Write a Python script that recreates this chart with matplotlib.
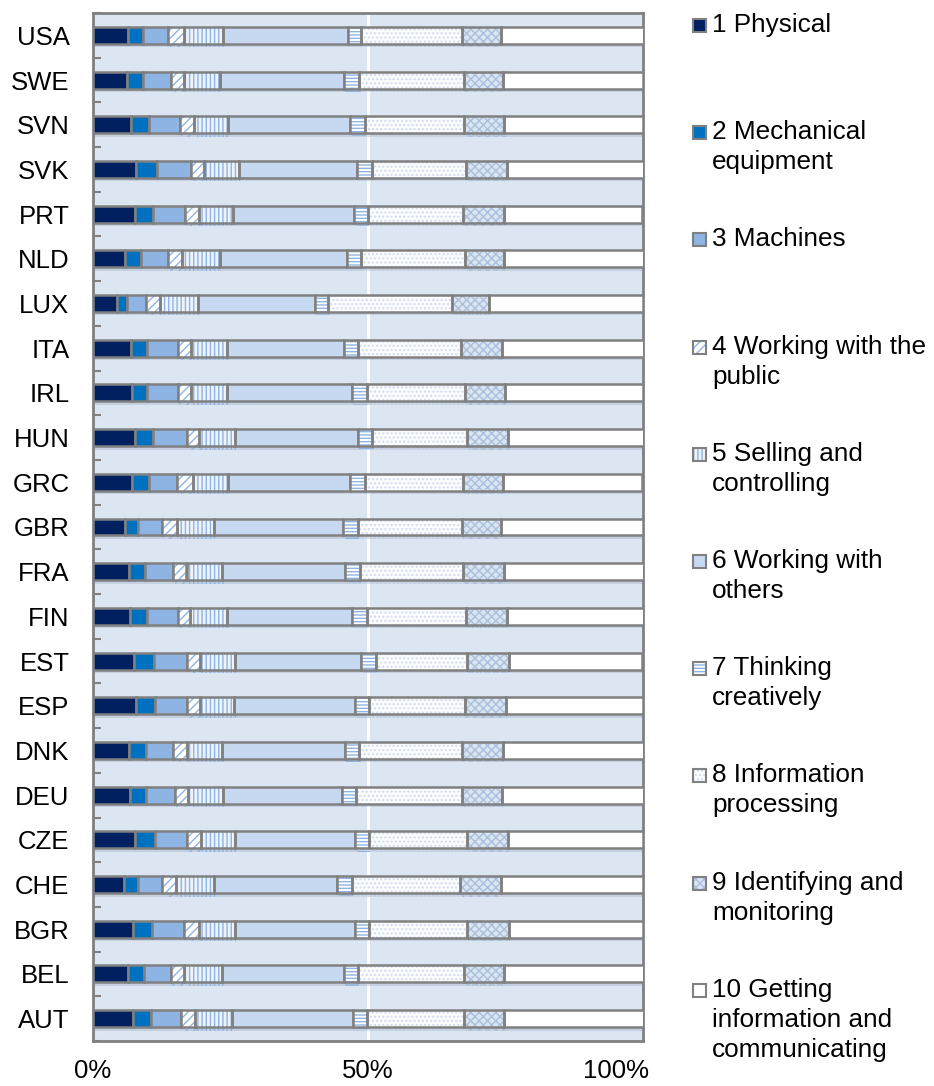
import numpy as np
import matplotlib
matplotlib.use('Agg')
import matplotlib.pyplot as plt
from matplotlib.patches import Rectangle
from matplotlib import patheffects as pe
from matplotlib.transforms import ScaledTranslation

plt.rcParams['font.family'] = ['Liberation Sans', 'DejaVu Sans']
plt.rcParams['hatch.linewidth'] = 1.0

countries = ['USA', 'SWE', 'SVN', 'SVK', 'PRT', 'NLD', 'LUX', 'ITA', 'IRL', 'HUN', 'GRC', 'GBR',
             'FRA', 'FIN', 'EST', 'ESP', 'DNK', 'DEU', 'CZE', 'CHE', 'BGR', 'BEL', 'AUT']

# shares (%) of each task group, same order as countries
physical = [6.4, 6.1, 6.9, 7.9, 7.7, 5.9, 4.4, 6.9, 7.0, 7.6, 7.1, 5.8, 6.6, 6.7, 7.5, 7.9, 6.6, 6.8, 7.6, 5.6, 7.2, 6.4, 7.3]
mechanical = [2.6, 2.9, 3.2, 3.8, 3.2, 2.9, 1.8, 3.0, 2.9, 3.3, 3.0, 2.4, 2.8, 3.2, 3.6, 3.3, 3.0, 2.9, 3.6, 2.5, 3.5, 2.9, 3.2]
machines = [4.7, 5.1, 5.7, 6.1, 5.8, 4.9, 3.5, 5.5, 5.5, 6.1, 5.1, 4.4, 5.2, 5.5, 5.9, 5.8, 5.0, 5.2, 5.9, 4.5, 5.9, 4.9, 5.5]
public = [2.9, 2.4, 2.6, 2.4, 2.6, 2.5, 2.5, 2.5, 2.4, 2.3, 2.9, 2.6, 2.4, 2.3, 2.5, 2.5, 2.5, 2.4, 2.5, 2.5, 2.7, 2.4, 2.6]
selling = [7.0, 6.6, 6.2, 6.3, 6.2, 6.8, 6.8, 6.5, 6.6, 6.5, 6.5, 6.8, 6.5, 6.6, 6.3, 6.2, 6.4, 6.4, 6.2, 6.9, 6.5, 6.9, 6.6]
others = [22.7, 22.5, 22.2, 21.5, 22.0, 23.2, 21.3, 21.2, 22.7, 22.3, 22.1, 23.5, 22.4, 22.8, 23.0, 22.0, 22.3, 21.6, 21.9, 22.4, 21.8, 22.1, 22.1]
creative = [2.4, 2.8, 2.6, 2.8, 2.5, 2.5, 2.5, 2.6, 2.7, 2.7, 2.7, 2.7, 2.6, 2.7, 2.6, 2.5, 2.6, 2.6, 2.5, 2.7, 2.5, 2.6, 2.5]
info_proc = [18.3, 19.0, 18.1, 17.1, 17.3, 18.9, 22.4, 18.7, 17.9, 17.2, 17.8, 18.8, 18.7, 18.1, 16.6, 17.4, 18.7, 19.1, 17.8, 19.7, 17.9, 19.3, 17.7]
monitoring = [7.2, 7.2, 7.3, 7.3, 7.5, 7.1, 6.8, 7.5, 7.3, 7.5, 7.3, 7.2, 7.5, 7.3, 7.6, 7.4, 7.4, 7.4, 7.4, 7.3, 7.6, 7.2, 7.2]
communicating = [25.9, 25.4, 25.2, 25.0, 25.1, 25.4, 28.0, 25.7, 25.0, 24.6, 25.4, 25.8, 25.4, 25.0, 24.3, 25.0, 25.6, 25.8, 24.6, 25.9, 24.4, 25.4, 25.4]

series = [physical, mechanical, machines, public, selling, others, creative, info_proc, monitoring, communicating]
labels = ['1 Physical', '2 Mechanical\nequipment', '3 Machines', '4 Working with the\npublic',
          '5 Selling and\ncontrolling', '6 Working with\nothers', '7 Thinking\ncreatively',
          '8 Information\nprocessing', '9 Identifying and\nmonitoring',
          '10 Getting\ninformation and\ncommunicating']

# (facecolor, hatch, hatch colour)
styles = [
    ('#002060', None, None),
    ('#0070C0', None, None),
    ('#8EB4E3', None, None),
    ('white', '////', '#8EB4E3'),
    ('#eef3fa', '||||', '#8EB4E3'),
    ('#C6D9F1', None, None),
    ('white', '-----', '#8EB4E3'),
    ('#fbfcfe', '....', '#cfdcec'),
    ('#dbe5f1', 'xxxx', '#a9bfdb'),
    ('white', None, None),
]
edge = '#808080'

fig = plt.figure(figsize=(9.34, 10.86), dpi=100)
ax = fig.add_axes([93 / 934, 1 - 1041 / 1086, 550 / 934, 1028 / 1086])
ax.set_facecolor('#DCE6F2')

y = np.arange(len(countries))
left = np.zeros(len(countries))
shadow = [pe.SimplePatchShadow(offset=(1, -2.5), shadow_rgbFace='#8090a8', alpha=0.25), pe.Normal()]
for vals, (fc, hatch, hc) in zip(series, styles):
    vals = np.array(vals)
    if hatch:
        bars = ax.barh(y, vals, left=left, height=0.38, color=fc, hatch=hatch,
                       edgecolor=hc, linewidth=0, zorder=3)
        for b in bars:
            b.set_path_effects(shadow)
        ax.barh(y, vals, left=left, height=0.38, fill=False, edgecolor=edge, linewidth=1.8, zorder=4)
    else:
        bars = ax.barh(y, vals, left=left, height=0.38, color=fc, edgecolor=edge, linewidth=1.8, zorder=3)
        for b in bars:
            b.set_path_effects(shadow)
    left += vals

ax.axvline(50, color='white', linewidth=2, zorder=1)
ax.set_xlim(0, 100)
ax.set_ylim(len(countries) - 0.5, -0.5)

ax.set_yticks(y)
ax.set_yticklabels(countries, fontsize=18.5)
ax.set_yticks(np.arange(len(countries) + 1) - 0.5, minor=True)
ax.tick_params(axis='y', which='major', length=0, pad=17)
ax.tick_params(axis='y', which='minor', direction='in', length=6, width=1.5, color=edge)
ax.set_xticks([0, 50, 100])
ax.set_xticklabels(['0%', '50%', '100%'], fontsize=18.5)
ax.tick_params(axis='x', length=0, pad=13)
# the last label sits inside the chart area, as in the original
last = ax.get_xticklabels()[-1]
last.set_transform(last.get_transform() + ScaledTranslation(-27 / 100, 0, fig.dpi_scale_trans))
for s in ax.spines.values():
    s.set_color(edge)
    s.set_linewidth(2)

# legend drawn as separate entries, evenly spaced like the original
for i, (lab, (fc, hatch, hc)) in enumerate(zip(labels, styles)):
    yc = 25 + i * 107.2
    r = Rectangle((693 / 934, 1 - (yc + 7) / 1086), 13 / 934, 13 / 1086, transform=fig.transFigure,
                  facecolor=fc, hatch=hatch, edgecolor=hc if hatch else edge, linewidth=0 if hatch else 1.5)
    fig.add_artist(r)
    if hatch:
        fig.add_artist(Rectangle((693 / 934, 1 - (yc + 7) / 1086), 13 / 934, 13 / 1086,
                                 transform=fig.transFigure, fill=False, edgecolor=edge, linewidth=1.5))
    fig.text(712 / 934, 1 - (yc - 12) / 1086, lab, fontsize=18.8, va='top', ha='left', linespacing=1.32)

fig.savefig('out.png', dpi=100)
